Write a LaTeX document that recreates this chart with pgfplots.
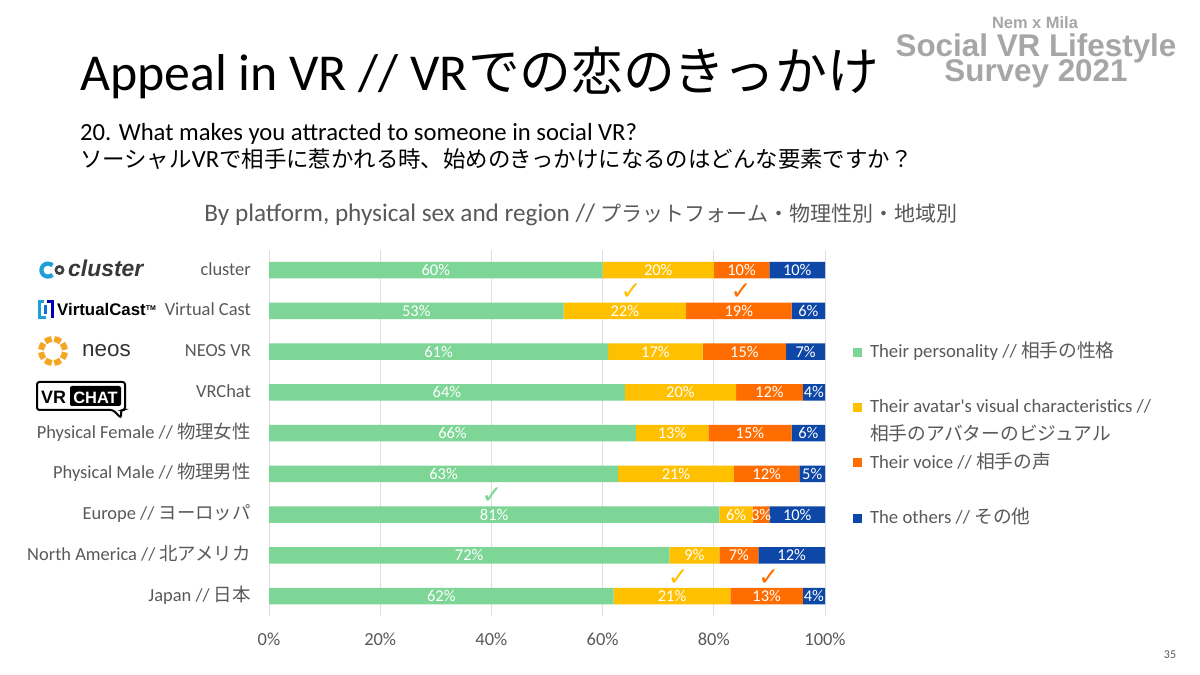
\documentclass[border=0pt]{standalone}
\usepackage{pgfplots}
\pgfplotsset{compat=1.18}
\usepackage{pgfplotstable}
\usepackage{fontspec}
\setmainfont{Carlito}
\newfontfamily\cjk{Noto Sans CJK JP}
\newfontfamily\dejavu{DejaVu Sans}
\newfontfamily\lib{Liberation Sans}
\definecolor{cgreen}{HTML}{7DD695}
\definecolor{cyellow}{HTML}{FFC000}
\definecolor{corange}{HTML}{FF6D00}
\definecolor{cblue}{HTML}{0D47A8}
\definecolor{tgray}{HTML}{595959}
\definecolor{lgray}{HTML}{A6A6A6}
\definecolor{neosor}{HTML}{F5A623}
\definecolor{clblue}{HTML}{1E9FD8}

\pgfplotstableread{
idx g a v o
0 62 21 13 4
1 72 9 7 12
2 81 6 3 10
3 62.8 20.8 11.8 4.6
4 66 13 15 6
5 64 20 12 4
6 61 17 15 7
7 53 22 19 6
8 60 20 10 10
}\datatab

\pgfplotsset{
  seg/.style={
    visualization depends on={\thisrow{#1}\as\segw},
    nodes near coords={\pgfmathprintnumber[fixed,precision=0,assume math mode=true]{\segw}\%},
    every node near coord/.append style={anchor=center, inner sep=0pt,
      text=white, font=\fontsize{16.5}{18}\selectfont},
  }
}

\begin{document}
\begin{tikzpicture}[x=1bp,y=1bp]
\useasboundingbox (0,0) rectangle (1200,675);
\fill[white] (0,0) rectangle (1200,675);

% titles
\node[anchor=base west, inner sep=0pt] at (80,584)
  {\fontsize{52}{60}\selectfont Appeal in VR // VR{\cjk での恋のきっかけ}};
\node[anchor=base west, inner sep=0pt] at (80,534)
  {\fontsize{24.75}{28}\selectfont 20. What makes you attracted to someone in social VR?};
\node[anchor=base west, inner sep=0pt] at (80,507)
  {\fontsize{22.5}{26}\selectfont{\cjk ソーシャル}{\fontsize{24.75}{28}\selectfont VR}{\cjk で相手に惹かれる時、始めのきっかけになるのはどんな要素ですか？}};
\node[anchor=base, inner sep=0pt, text=tgray] at (581,453)
  {\fontsize{25.3}{28}\selectfont By platform, physical sex and region // {\fontsize{21.1}{25}\selectfont\cjk プラットフォーム・物理性別・地域別}};

% survey logo
\node[anchor=base, inner sep=0pt, text=lgray] at (1035,646)
  {\lib\bfseries\fontsize{16.5}{18}\selectfont Nem x Mila};
\node[anchor=base, inner sep=0pt, text=lgray] at (1036,618.5)
  {\lib\bfseries\fontsize{31.5}{34}\selectfont Social VR Lifestyle};
\node[anchor=base, inner sep=0pt, text=lgray] at (1036,593.5)
  {\lib\bfseries\fontsize{31.5}{34}\selectfont Survey 2021};
\node[anchor=base, inner sep=0pt, text=tgray] at (1170,16)
  {\fontsize{12}{14}\selectfont 35};

% cluster logo
\draw[clblue, line width=4.2bp] (52.5,409.5) arc (45:315:6.5bp);
\draw[black!75, line width=2.6bp] (59.5,405) circle (3.6bp);
\node[anchor=base west, inner sep=0pt, text=black!78] at (68,398)
  {\lib\bfseries\itshape\fontsize{23}{26}\selectfont cluster};
% virtualcast logo
\draw[clblue, line width=3bp] (44,373) -- (39,373) -- (39,357) -- (46,357);
\draw[blue!70!black, line width=3bp] (47,373) -- (52,373) -- (52,357);
\draw[clblue!70!blue, line width=3bp] (45.5,370) -- (45.5,361);
\node[anchor=base west, inner sep=0pt, text=black] at (57,359)
  {\lib\bfseries\fontsize{16.9}{19}\selectfont VirtualCast\raisebox{5bp}{\fontsize{7}{8}\selectfont\lib TM}};
% neos logo
\foreach \a in {0,45,...,315}
  \draw[neosor, line width=6bp] ({53+12*cos(\a+6)},{324+12*sin(\a+6)}) arc ({\a+6}:{\a+39}:12bp);
\node[anchor=base west, inner sep=0pt, text=black!80] at (82,318)
  {\lib\fontsize{22.5}{25}\selectfont neos};
% vrchat logo
\draw[black, line width=2bp, fill=white, rounded corners=2.5bp]
  (37,293) -- (125,293) -- (125,265) -- (121,265) -- (121,257) -- (113,265) -- (37,265) -- cycle;
\fill[black, rounded corners=2bp] (70,289) rectangle (121,269);
\node[anchor=base west, inner sep=0pt, text=black] at (41,271)
  {\lib\bfseries\fontsize{18}{20}\selectfont VR};
\node[anchor=base, inner sep=0pt, text=white] at (95.5,271.5)
  {\lib\bfseries\fontsize{16.5}{18}\selectfont CHAT};

\begin{axis}[
  at={(269bp,58.6bp)}, anchor=south west,
  scale only axis, width=556bp, height=366.75bp,
  xbar stacked, bar width=16.5bp,
  xmin=0, xmax=100, ymin=-0.5, ymax=8.5,
  enlarge x limits=false, enlarge y limits=false,
  axis line style={draw=none},
  major tick length=0pt,
  xmajorgrids, grid style={draw=black!13, line width=0.9bp},
  xtick={0,20,...,100},
  xticklabels={0\%,20\%,40\%,60\%,80\%,100\%},
  xticklabel style={inner sep=0pt, anchor=north, yshift=-16bp, text=tgray,
    font=\fontsize{18.5}{21}\selectfont},
  ytick={0,...,8},
  yticklabels={
    {Japan // {\cjk 日本}},
    {North America // {\cjk 北アメリカ}},
    {Europe // {\cjk ヨーロッパ}},
    {Physical Male // {\cjk 物理男性}},
    {Physical Female // {\cjk 物理女性}},
    VRChat, NEOS VR, Virtual Cast, cluster},
  yticklabel style={inner sep=0pt, anchor=east, xshift=-18bp, text=tgray,
    text height=13bp, text depth=3bp, font=\fontsize{18.5}{21}\selectfont},
  legend image code/.code={\fill[#1] (0bp,-4.5bp) rectangle (9bp,4.5bp);},
  legend style={at={(1.0504,0.744)}, anchor=north west, draw=none, fill=none,
    inner sep=0pt, outer sep=0pt, row sep=10.7bp, column sep=8bp,
    font=\fontsize{18.8}{21}\selectfont, text=tgray,
    cells={anchor=west},
    nodes={inner sep=0pt, text height=14bp, text depth=3bp}},
]
\addplot[fill=cgreen, draw=none, seg=g] table[x=g, y=idx] {\datatab};
\addlegendentry{Their personality // {\cjk 相手の性格}}
\addlegendimage{empty legend}
\addlegendentry{\phantom{x}}
\addplot[fill=cyellow, draw=none, seg=a] table[x=a, y=idx] {\datatab};
\addlegendentry{Their avatar\textquotesingle s visual characteristics //}
\addlegendimage{empty legend}
\addlegendentry{\cjk 相手のアバターのビジュアル}
\addplot[fill=corange, draw=none, seg=v] table[x=v, y=idx] {\datatab};
\addlegendentry{Their voice // {\cjk 相手の声}}
\addlegendimage{empty legend}
\addlegendentry{\phantom{x}}
\addplot[fill=cblue, draw=none, seg=o] table[x=o, y=idx] {\datatab};
\addlegendentry{The others // {\cjk その他}}

\node[text=cyellow, inner sep=0pt, font=\dejavu\fontsize{25}{27}\selectfont] at (axis cs:65.1,7.47) {✓};
\node[text=corange, inner sep=0pt, font=\dejavu\fontsize{25}{27}\selectfont] at (axis cs:84.9,7.47) {✓};
\node[text=cgreen, inner sep=0pt, font=\dejavu\fontsize{25}{27}\selectfont] at (axis cs:40.1,2.47) {✓};
\node[text=cyellow, inner sep=0pt, font=\dejavu\fontsize{25}{27}\selectfont] at (axis cs:73.6,0.45) {✓};
\node[text=corange, inner sep=0pt, font=\dejavu\fontsize{25}{27}\selectfont] at (axis cs:89.9,0.45) {✓};
\end{axis}
\end{tikzpicture}
\end{document}
